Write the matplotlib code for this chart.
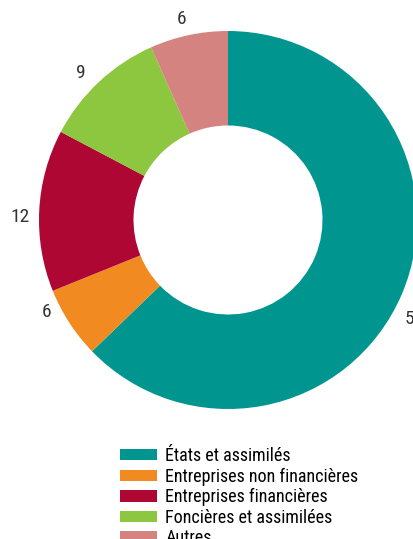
import matplotlib
matplotlib.use("Agg")
import numpy as np
import matplotlib.pyplot as plt
from matplotlib.patches import Patch

plt.rcParams['font.family'] = ['Roboto Condensed', 'Liberation Sans Narrow', 'Liberation Sans', 'DejaVu Sans']

categories = ["États et assimilés", "Entreprises non financières",
              "Entreprises financières", "Foncières et assimilées", "Autres"]
values = [56.5, 5.5, 12.45, 9.55, 6.0]
value_labels = ["57", "6", "12", "9", "6"]
colors = ["#00968F", "#F28A22", "#AE0734", "#8DC63F", "#D48380"]

# small angular nudges (degrees) and distances for the value labels
label_nudge = [-5, -6, 2, 2, 1]
label_dist = [1.115, 1.075, 1.1, 1.1, 1.09]

fig = plt.figure(figsize=(4.14, 5.39), dpi=100)
fig.patch.set_facecolor('white')

# pie axes placed so the donut centre sits at (228, 220) px, radius 189 px
W, H = 414, 539
cx, cy, r = 228, 220, 189
ax = fig.add_axes([(cx - r) / W, (H - cy - r) / H, 2 * r / W, 2 * r / H])

wedges, texts = ax.pie(values, colors=colors, startangle=90, counterclock=False,
                       radius=1, labels=value_labels, labeldistance=1.1,
                       wedgeprops=dict(width=0.5, edgecolor='none'),
                       textprops=dict(fontsize=14, color='#333333'))
for w, t, dn, dist in zip(wedges, texts, label_nudge, label_dist):
    ang = np.deg2rad((w.theta1 + w.theta2) / 2 + dn)
    t.set_position((dist * np.cos(ang), dist * np.sin(ang)))
    t.set_clip_on(False)
    t.set_ha('center')
    t.set_va('center')
ax.set_xlim(-1, 1)
ax.set_ylim(-1, 1)
ax.set_aspect('equal')
ax.axis('off')

handles = [Patch(facecolor=c, edgecolor='none') for c in colors]
fig.legend(handles, categories, loc='upper left',
           bbox_to_anchor=(120 / W, 1 - 447 / H),
           frameon=False, fontsize=13, handlelength=2.05, handleheight=0.6,
           handletextpad=0.45, labelspacing=0.14, borderaxespad=0, borderpad=0)

fig.savefig("out.png", dpi=100, facecolor='white')
